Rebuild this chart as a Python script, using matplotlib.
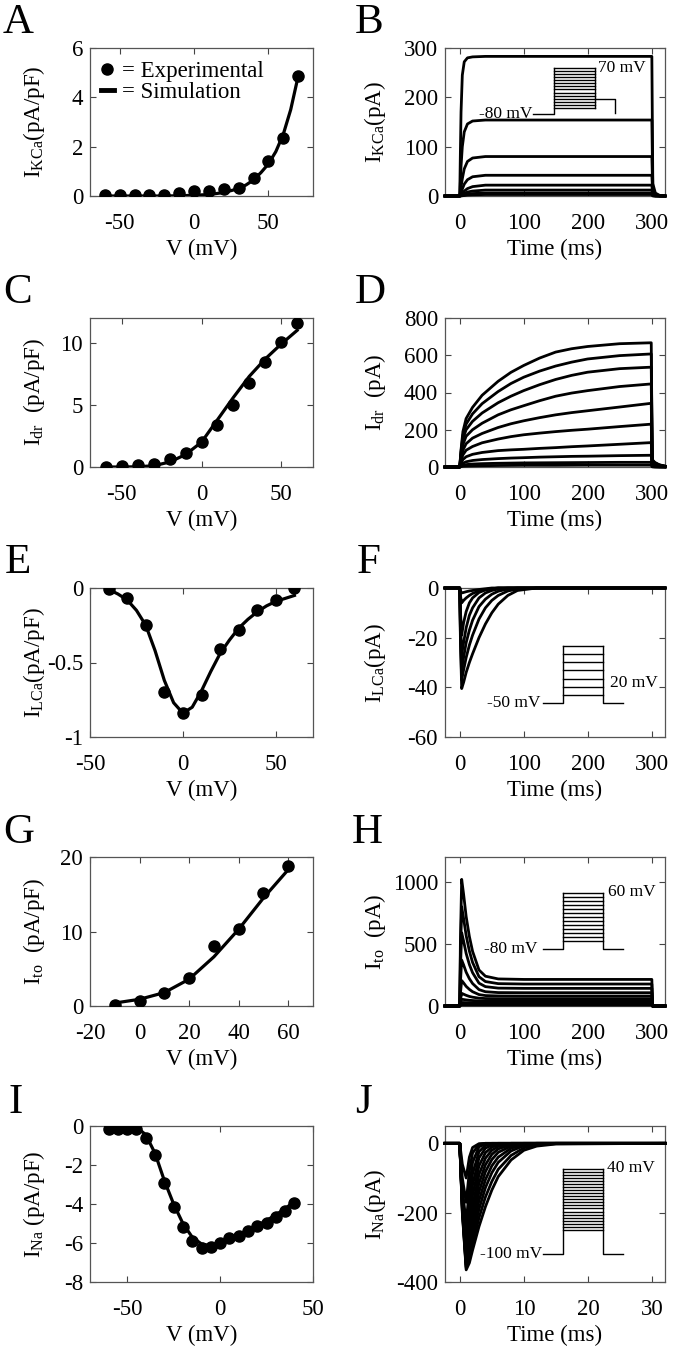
import matplotlib
matplotlib.use("Agg")
import matplotlib.pyplot as plt
from matplotlib.lines import Line2D

plt.rcParams["font.family"] = "Liberation Serif"
plt.rcParams["mathtext.fontset"] = "custom"
plt.rcParams["mathtext.rm"] = "Liberation Serif"
plt.rcParams["mathtext.it"] = "Liberation Serif:italic"
plt.rcParams["axes.unicode_minus"] = False

# ---------------- data ----------------
# A: I_KCa I-V
a_v_exp = [-60, -50, -40, -30, -20, -10, 0, 10, 20, 30, 40, 50, 60, 70]
a_i_exp = [0.03, 0.03, 0.03, 0.03, 0.03, 0.12, 0.2, 0.22, 0.27, 0.34, 0.75, 1.42, 2.34, 4.88]
a_v_sim = [-60, -50, -40, -30, -20, -10, 0, 10, 20, 30, 35, 40, 45, 50, 55, 60, 65, 70]
a_i_sim = [0, 0, 0, 0, 0, 0.01, 0.03, 0.06, 0.14, 0.3, 0.45, 0.65, 0.95, 1.3, 1.8, 2.5, 3.5, 4.85]

# B: I_KCa traces
b_t = [-23, 0, 1, 2, 4, 7, 12, 20, 40, 299.5, 301, 305, 312, 320]
b_traces = [
    [0, 0, 90, 170, 245, 272, 280, 282, 283, 283, 25, 6, 1, 0],
    [0, 0, 30, 60, 100, 130, 146, 152, 154, 154, 14, 3, 0.5, 0],
    [0, 0, 8, 18, 35, 55, 70, 77, 80, 80, 7, 2, 0.3, 0],
    [0, 0, 3, 7, 14, 24, 33, 39, 42, 42, 4, 1, 0, 0],
    [0, 0, 1, 3, 6, 10, 15, 19, 22, 22, 2, 0.5, 0, 0],
    [0, 0, 0.5, 1.5, 3, 5, 8, 10, 12, 12, 1, 0.3, 0, 0],
    [0, 0, 0, 0.5, 1, 2, 4, 5, 6, 6, 0.5, 0, 0, 0],
    [0, 0, 0, 0.2, 0.5, 1, 2, 2.5, 3, 3, 0.3, 0, 0, 0],
]

# C: I_dr I-V
c_v_exp = [-60, -50, -40, -30, -20, -10, 0, 10, 20, 30, 40, 50, 60]
c_i_exp = [0.0, 0.08, 0.14, 0.27, 0.68, 1.14, 2.04, 3.35, 4.99, 6.76, 8.45, 10.05, 11.6]
c_v_sim = [-60, -50, -40, -30, -20, -10, 0, 10, 20, 30, 40, 50, 60]
c_i_sim = [0, 0, 0.02, 0.1, 0.4, 1.0, 2.0, 3.8, 5.6, 7.3, 8.7, 9.9, 11.0]

# D: I_dr traces
d_t = [-23, 0, 2, 5, 10, 20, 35, 60, 80, 100, 125, 150, 175, 200, 250, 299.5, 301, 305, 312, 321]
d_traces = [
    [0, 0, 90, 190, 260, 320, 385, 460, 508, 545, 585, 617, 635, 647, 662, 667, 40, 25, 12, 5],
    [0, 0, 80, 170, 230, 285, 340, 405, 448, 482, 515, 542, 563, 580, 598, 607, 36, 22, 11, 4],
    [0, 0, 70, 150, 200, 245, 290, 345, 380, 410, 442, 470, 492, 509, 528, 536, 32, 20, 10, 4],
    [0, 0, 60, 120, 165, 200, 235, 280, 307, 329, 356, 380, 397, 410, 432, 446, 27, 16, 8, 3],
    [0, 0, 45, 90, 125, 155, 180, 212, 232, 248, 265, 280, 292, 302, 322, 342, 20, 12, 6, 2],
    [0, 0, 35, 65, 90, 110, 130, 150, 163, 173, 182, 190, 197, 203, 217, 230, 14, 8, 4, 1.5],
    [0, 0, 20, 40, 55, 68, 78, 88, 92, 95, 100, 104, 109, 113, 122, 131, 8, 5, 2, 1],
    [0, 0, 10, 20, 28, 35, 40, 45, 48, 50, 53, 55, 57, 58, 61, 63, 4, 2, 1, 0],
    [0, 0, 4, 9, 13, 16, 18, 20, 21, 22, 22.5, 23, 23.5, 24, 25, 25, 2, 1, 0, 0],
    [0, 0, 2, 4, 5, 6, 7, 8, 8.5, 9, 9, 9, 9.5, 10, 10, 10, 1, 0, 0, 0],
]

# E: I_LCa I-V
e_v_exp = [-40, -30, -20, -10, 0, 10, 20, 30, 40, 50, 60]
e_i_exp = [-0.01, -0.07, -0.25, -0.70, -0.84, -0.72, -0.41, -0.28, -0.15, -0.08, 0.0]
e_v_sim = [-40, -35, -30, -25, -20, -15, -10, -5, 0, 5, 10, 15, 20, 25, 30, 35, 40, 45, 50, 55, 60]
e_i_sim = [-0.01, -0.04, -0.08, -0.15, -0.25, -0.42, -0.62, -0.77, -0.84, -0.80, -0.69,
           -0.56, -0.44, -0.35, -0.27, -0.21, -0.16, -0.12, -0.09, -0.07, -0.05]

# F: I_LCa traces
f_t = [-23, 0, 1, 3, 6, 10, 15, 20, 30, 40, 50, 60, 75, 90, 120, 320]
f_traces = [
    [0, 0, -20, -40.5, -38, -34, -30, -26.5, -20, -14.5, -10, -6.5, -3, -1, 0, 0],
    [0, 0, -18, -37, -33, -28, -23, -19, -12.5, -8, -5, -3, -1.2, -0.4, 0, 0],
    [0, 0, -16, -33, -28, -22, -17, -13, -7.5, -4.5, -2.5, -1.3, -0.4, 0, 0, 0],
    [0, 0, -13, -27, -22, -16, -11, -8, -4, -2, -1, -0.4, 0, 0, 0, 0],
    [0, 0, -9, -19, -14, -9.5, -6, -4, -1.8, -0.8, -0.3, 0, 0, 0, 0, 0],
    [0, 0, -3, -6, -5, -4, -3, -2.2, -1.2, -0.6, -0.3, 0, 0, 0, 0, 0],
    [0, 0, -1, -2, -1.8, -1.5, -1.2, -1, -0.6, -0.3, 0, 0, 0, 0, 0, 0],
]

# G: I_to I-V
g_v_exp = [-10, 0, 10, 20, 30, 40, 50, 60]
g_i_exp = [0.2, 0.7, 1.7, 3.8, 8.0, 10.3, 15.2, 18.8]
g_v_sim = [-10, 0, 10, 20, 30, 40, 50, 60]
g_i_sim = [0.4, 0.9, 1.8, 3.6, 6.6, 10.3, 14.5, 18.3]

# H: I_to traces
h_t = [-23, 0, 1, 3, 6, 10, 15, 20, 30, 40, 60, 100, 299.5, 300.5, 320]
h_traces = [
    [0, 0, 510, 1020, 900, 720, 560, 440, 290, 240, 218, 214, 214, 0, 0],
    [0, 0, 400, 800, 705, 567, 443, 351, 236, 197, 180, 177, 177, 0, 0],
    [0, 0, 295, 590, 523, 423, 334, 268, 184, 156, 144, 142, 142, 0, 0],
    [0, 0, 185, 370, 331, 272, 220, 181, 132, 115, 108, 107, 107, 0, 0],
    [0, 0, 100, 205, 186, 158, 134, 115, 92, 84, 81, 80, 80, 0, 0],
    [0, 0, 50, 102, 95, 86, 77, 71, 63, 60, 59, 59, 59, 0, 0],
    [0, 0, 27, 54, 52, 49, 46, 44, 41, 40, 40, 40, 40, 0, 0],
    [0, 0, 14, 28, 28, 27, 27, 27, 27, 27, 27, 27, 27, 0, 0],
    [0, 0, 8, 16, 16, 16, 16, 16, 16, 16, 16, 16, 16, 0, 0],
    [0, 0, 4, 8, 8, 8, 8, 8, 8, 8, 8, 8, 8, 0, 0],
]

# I: I_Na I-V
i_v_exp = [-60, -55, -50, -45, -40, -35, -30, -25, -20, -15, -10, -5, 0, 5, 10, 15, 20, 25, 30, 35, 40]
i_i_exp = [-0.14, -0.14, -0.17, -0.17, -0.6, -1.51, -2.93, -4.13, -5.16, -5.9, -6.28, -6.2,
           -6.02, -5.73, -5.63, -5.39, -5.13, -4.96, -4.65, -4.35, -3.96]
i_v_sim = [-57, -50, -45, -40, -35, -30, -25, -20, -15, -10, -5, 0, 5, 10, 15, 20, 25, 30, 35, 40]
i_i_sim = [0, 0, -0.05, -0.45, -1.4, -2.8, -4.0, -5.0, -5.7, -6.05, -6.15, -6.05, -5.85,
           -5.6, -5.35, -5.1, -4.85, -4.55, -4.25, -3.85]

# J: I_Na traces
j_t = [-2.3, 0, 0.4, 1, 1.5, 2, 3, 4, 5, 6, 8, 10, 12, 15, 32]
j_traces = [
    [0, 0, -200, -365, -345, -308, -240, -183, -135, -96, -48, -20, -8, -2, 0],
    [0, 0, -195, -360, -335, -290, -215, -155, -110, -75, -35, -13, -4, -1, 0],
    [0, 0, -190, -355, -325, -270, -190, -128, -85, -55, -22, -7, -2, 0, 0],
    [0, 0, -185, -350, -315, -250, -165, -105, -65, -40, -14, -4, -1, 0, 0],
    [0, 0, -180, -345, -300, -230, -140, -82, -47, -26, -8, -2, 0, 0, 0],
    [0, 0, -175, -340, -285, -205, -115, -62, -32, -16, -4, -1, 0, 0, 0],
    [0, 0, -170, -330, -265, -180, -90, -43, -20, -9, -2, 0, 0, 0, 0],
    [0, 0, -165, -315, -240, -150, -65, -27, -11, -4, 0, 0, 0, 0, 0],
    [0, 0, -160, -295, -210, -120, -42, -14, -5, -2, 0, 0, 0, 0, 0],
    [0, 0, -150, -270, -175, -88, -24, -6, -1, 0, 0, 0, 0, 0, 0],
    [0, 0, -130, -230, -130, -55, -10, -2, 0, 0, 0, 0, 0, 0, 0],
    [0, 0, -100, -170, -80, -28, -3, 0, 0, 0, 0, 0, 0, 0, 0],
    [0, 0, -60, -100, -40, -12, -1, 0, 0, 0, 0, 0, 0, 0, 0],
]

# voltage protocols (insets)
b_hold, b_steps, b_post = -80, list(range(-60, 71, 10)), -30
f_hold, f_steps = -50, list(range(-40, 21, 10))
h_hold, h_steps = -80, list(range(-60, 61, 10))
j_hold, j_steps = -100, list(range(-60, 41, 5))

# ---------------- figure ----------------
W, H = 673, 1347
fig = plt.figure(figsize=(W / 100, H / 100), dpi=100)
FS = 16.5


def px(l, t, r, b):
    return [l / W, 1 - b / H, (r - l) / W, (b - t) / H]


def setup(ax, xlim, ylim, xticks, yticks, xlabel, ylabel, labx):
    ax.set_xlim(xlim)
    ax.set_ylim(ylim)
    ax.set_xticks(xticks)
    ax.set_yticks(yticks)
    ax.tick_params(direction="in", top=True, right=True, length=4, width=0.8,
                   labelsize=FS, color="#444444")
    ax.tick_params(axis="x", pad=12)
    ax.tick_params(axis="y", pad=5)
    for s in ax.spines.values():
        s.set_color("#555555")
        s.set_linewidth(0.9)
    ax.set_xlabel(xlabel, fontsize=FS, labelpad=4)
    ax.set_ylabel(ylabel, fontsize=FS)
    ax.yaxis.set_label_coords(labx, 0.5)


def iv(ax, vx, vy, sx, sy):
    ax.plot(sx, sy, color="black", lw=2.3, zorder=3)
    ax.plot(vx, vy, "o", color="black", ms=8, zorder=4)


def traces(ax, t, tr):
    for y in tr:
        ax.plot(t, y, color="black", lw=2, clip_on=False, zorder=3)


def protocol(rect, hold, steps, post, llab, lx, rlab, rx, ry):
    axi = fig.add_axes(px(*rect))
    axi.axis("off")
    top, low = max(steps), min(steps)
    axi.set_xlim(0, 4)
    axi.set_ylim(hold, top)
    kw = dict(color="black", lw=1, clip_on=False)
    axi.plot([0, 1, 1], [hold, hold, top], **kw)
    for v in steps:
        axi.plot([1, 3], [v, v], **kw)
    if post is None:
        axi.plot([3, 3, 4], [top, hold, hold], **kw)
    else:
        axi.plot([3, 3], [top, low], **kw)
        axi.plot([3, 4, 4], [post, post, hold + 2], **kw)
    axi.text(lx, hold, llab, ha="right", va="center", fontsize=12.5)
    axi.text(rx, ry, rlab, ha="left", va="center", fontsize=12.5)


L = (90, 313)
R = (445, 665)
rows = [(48, 196), (318, 467), (588, 737), (857, 1006), (1126, 1282)]
labxL = (47 - 90) / 223
labxR = (388 - 445) / 220

# A
ax = fig.add_axes(px(L[0], rows[0][0], L[1], rows[0][1]))
iv(ax, a_v_exp, a_i_exp, a_v_sim, a_i_sim)
setup(ax, (-70, 80), (0, 6), [-50, 0, 50], [0, 2, 4, 6], "V (mV)",
      r"I$_{\rm KCa}$(pA/pF)", labxL)
handles = [Line2D([], [], marker="o", ls="none", color="black", ms=8),
           Line2D([], [], color="black", lw=3.5)]
ax.legend(handles, ["= Experimental", "= Simulation"], loc="upper left",
          bbox_to_anchor=(0.05, 0.91), frameon=False, fontsize=FS,
          handlelength=0.55, handletextpad=0.35, labelspacing=0.0, borderpad=0,
          borderaxespad=0)

# B
ax = fig.add_axes(px(R[0], rows[0][0], R[1], rows[0][1]))
traces(ax, b_t, b_traces)
setup(ax, (-23, 320), (0, 300), [0, 100, 200, 300], [0, 100, 200, 300], "Time (ms)",
      r"I$_{\rm KCa}$(pA)", labxR)
protocol((533, 68, 615, 114), b_hold, b_steps, b_post, "-80 mV", -0.05, "70 mV", 3.15, 70)

# C
ax = fig.add_axes(px(L[0], rows[1][0], L[1], rows[1][1]))
iv(ax, c_v_exp, c_i_exp, c_v_sim, c_i_sim)
setup(ax, (-70, 70), (0, 12), [-50, 0, 50], [0, 5, 10], "V (mV)",
      r"I$_{\rm dr}$  (pA/pF)", labxL)

# D
ax = fig.add_axes(px(R[0], rows[1][0], R[1], rows[1][1]))
traces(ax, d_t, d_traces)
setup(ax, (-23, 321), (0, 800), [0, 100, 200, 300], [0, 200, 400, 600, 800], "Time (ms)",
      r"I$_{\rm dr}$  (pA)", labxR)

# E
ax = fig.add_axes(px(L[0], rows[2][0], L[1], rows[2][1]))
iv(ax, e_v_exp, e_i_exp, e_v_sim, e_i_sim)
setup(ax, (-50, 70), (-1, 0), [-50, 0, 50], [-1, -0.5, 0], "V (mV)",
      r"I$_{\rm LCa}$(pA/pF)", labxL)
ax.set_yticklabels(["-1", "-0.5", "0"])

# F
ax = fig.add_axes(px(R[0], rows[2][0], R[1], rows[2][1]))
traces(ax, f_t, f_traces)
setup(ax, (-23, 320), (-60, 0), [0, 100, 200, 300], [-60, -40, -20, 0], "Time (ms)",
      r"I$_{\rm LCa}$(pA)", labxR)
protocol((543, 646, 623, 703), f_hold, f_steps, None, "-50 mV", -0.12, "20 mV", 3.35, -25)

# G
ax = fig.add_axes(px(L[0], rows[3][0], L[1], rows[3][1]))
iv(ax, g_v_exp, g_i_exp, g_v_sim, g_i_sim)
setup(ax, (-20, 70), (0, 20), [-20, 0, 20, 40, 60], [0, 10, 20], "V (mV)",
      r"I$_{\rm to}$  (pA/pF)", labxL)

# H
ax = fig.add_axes(px(R[0], rows[3][0], R[1], rows[3][1]))
traces(ax, h_t, h_traces)
setup(ax, (-23, 320), (0, 1200), [0, 100, 200, 300], [0, 500, 1000], "Time (ms)",
      r"I$_{\rm to}$  (pA)", labxR)
protocol((543, 893, 623, 949), h_hold, h_steps, None, "-80 mV", -0.3, "60 mV", 3.25, 63)

# I
ax = fig.add_axes(px(L[0], rows[4][0], L[1], rows[4][1]))
iv(ax, i_v_exp, i_i_exp, i_v_sim, i_i_sim)
setup(ax, (-70, 50), (-8, 0), [-50, 0, 50], [-8, -6, -4, -2, 0], "V (mV)",
      r"I$_{\rm Na}$ (pA/pF)", labxL)

# J
ax = fig.add_axes(px(R[0], rows[4][0], R[1], rows[4][1]))
traces(ax, j_t, j_traces)
setup(ax, (-2.3, 32), (-400, 50), [0, 10, 20, 30], [-400, -200, 0], "Time (ms)",
      r"I$_{\rm Na}$(pA)", labxR)
protocol((543, 1169, 623, 1254), j_hold, j_steps, None, "-100 mV", -0.05, "40 mV", 3.2, 42)

# panel letters
letters = [("A", 3, 33), ("B", 355, 33), ("C", 3, 303), ("D", 355, 303),
           ("E", 5, 573), ("F", 357, 573), ("G", 3, 843), ("H", 352, 843),
           ("I", 8, 1113), ("J", 355, 1113)]
for s, x, y in letters:
    fig.text(x / W, 1 - y / H, s, fontsize=31, ha="left", va="baseline")

fig.savefig("out.png", dpi=100)
